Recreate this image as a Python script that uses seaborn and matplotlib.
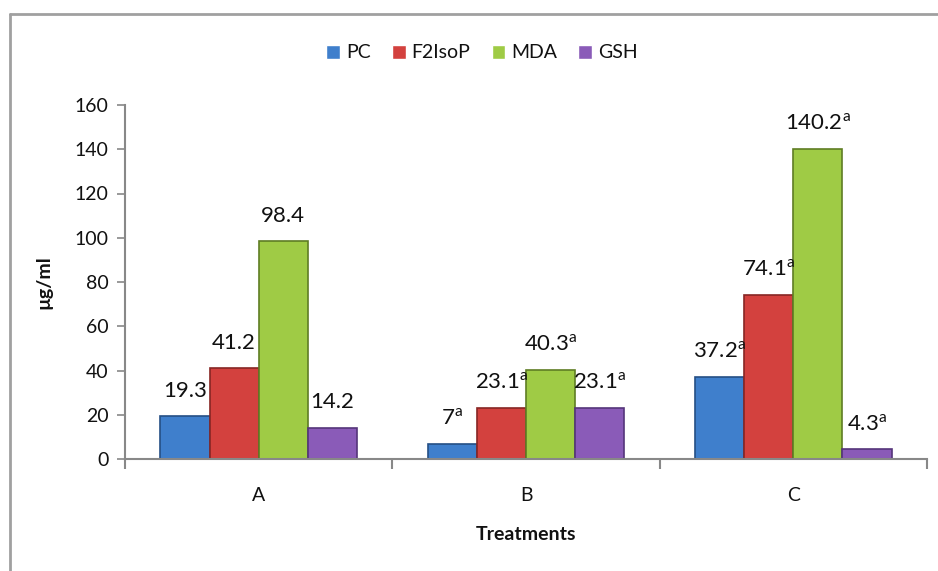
import pandas as pd
import numpy as np
import seaborn as sns
import matplotlib.pyplot as plt
from matplotlib.lines import Line2D
from matplotlib.ticker import FixedLocator

# chart data
treatments = ['A', 'B', 'C']
series = ['PC', 'F2IsoP', 'MDA', 'GSH']
pc = [19.3, 7, 37.2]
f2isop = [41.2, 23.1, 74.1]
mda = [98.4, 40.3, 140.2]
gsh = [14.2, 23.1, 4.3]
# superscript letter on each treatment's labels
sup = ['', 'a', 'a']
yticks = [0, 20, 40, 60, 80, 100, 120, 140, 160]

data = pd.DataFrame({
    'Treatments': treatments * 4,
    'series': [s for s in series for _ in treatments],
    'value': pc + f2isop + mda + gsh,
})

sns.set_style('white')
plt.rcParams['font.family'] = ['Lato', 'DejaVu Sans']
plt.rcParams['mathtext.fontset'] = 'custom'
plt.rcParams['mathtext.rm'] = 'Lato'
plt.rcParams['text.color'] = '#111111'

colors = ['#3f7fcc', '#d3413e', '#9fcb45', '#8a5bb8']
edges = ['#254f85', '#872624', '#5f7d24', '#55357a']

fig = plt.figure(figsize=(9.38, 5.71), dpi=100)
ax = fig.add_axes([125 / 938, 1 - 459 / 571, 802 / 938, 354 / 571])

sns.barplot(data=data, x='Treatments', y='value', hue='series',
            palette=colors, saturation=1, width=0.735, ax=ax, legend=True)

for cont, ec in zip(ax.containers, edges):
    for p in cont:
        p.set_edgecolor(ec)
        p.set_linewidth(1.2)
    labels = []
    for v, s in zip(cont.datavalues, sup):
        txt = f'{v:g}'
        if s:
            txt += r'$^{\mathrm{' + s + '}}$'
        labels.append(txt)
    ax.bar_label(cont, labels=labels, padding=11, fontsize=16, color='#111111')

ax.set_ylim(0, 160)
ax.set_xlim(-0.5, 2.5)
ax.set_yticks(yticks)
ax.tick_params(axis='y', which='major', length=6, width=1.2, color='#888888',
               labelsize=14, labelcolor='#111111', pad=6, direction='out', left=True)
ax.tick_params(axis='x', which='major', length=0, labelsize=14, labelcolor='#111111', pad=20)
ax.xaxis.set_minor_locator(FixedLocator([-0.5, 0.5, 1.5, 2.5]))
ax.tick_params(axis='x', which='minor', length=7, width=1.5, color='#888888',
               direction='out', bottom=True)

for side in ['top', 'right']:
    ax.spines[side].set_visible(False)
for side in ['left', 'bottom']:
    ax.spines[side].set_color('#888888')
    ax.spines[side].set_linewidth(1.5)

ax.set_xlabel('Treatments', fontsize=14, fontweight='bold', labelpad=16, color='#111111')
ax.set_ylabel('µg/ml', fontsize=14, fontweight='bold', labelpad=16, color='#111111')

handles, labs = ax.get_legend_handles_labels()
ax.legend_.remove()
fig.legend(handles, labs, loc='center', ncol=4, frameon=False,
           bbox_to_anchor=(482 / 938, 1 - 53 / 571), fontsize=14,
           handlelength=0.7, handleheight=0.7, handletextpad=0.3, columnspacing=1.1)

# outer frame lines (top and left)
fig.add_artist(Line2D([10 / 938, 10 / 938], [0, 1 - 14 / 571], color='#a0a0a0', lw=2))
fig.add_artist(Line2D([10 / 938, 1], [1 - 14 / 571, 1 - 14 / 571], color='#a0a0a0', lw=2))

fig.savefig('out.png', dpi=100)
